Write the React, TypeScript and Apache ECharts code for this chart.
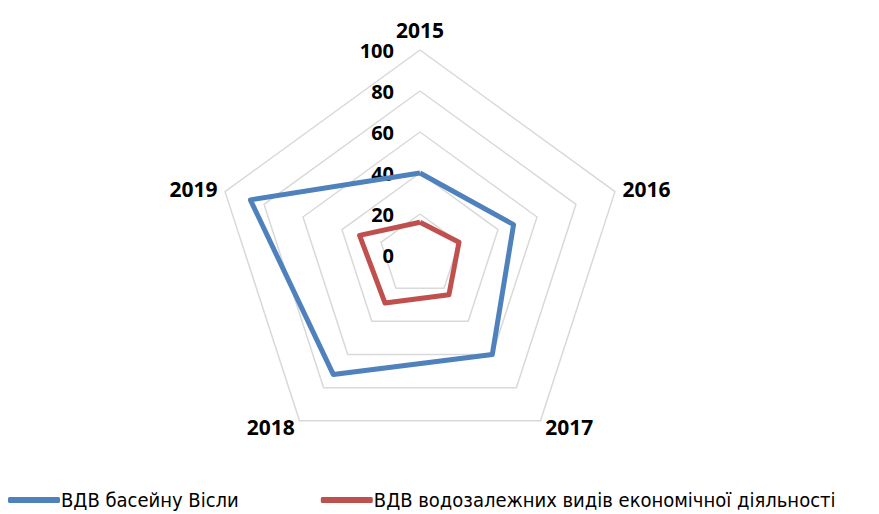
import React, { useEffect, useRef } from "react";
import * as echarts from "echarts";

const years = ["2015", "2016", "2017", "2018", "2019"];
const tickMax = 100;
const seriesNames = ["ВДВ басейну Вісли", "ВДВ водозалежних видів економічної діяльності"];
const vislaValues = [40, 48, 60, 72, 87];
const waterValues = [16, 20, 24, 29, 31];

// ECharts radar goes counter-clockwise; reorder so years run clockwise
const order = [0, 4, 3, 2, 1];
const orderedYears = order.map((i) => years[i]);
const orderedVisla = order.map((i) => vislaValues[i]);
const orderedWater = order.map((i) => waterValues[i]);

export default function App() {
  const ref = useRef<HTMLDivElement>(null);
  useEffect(() => {
    if (!ref.current) return;
    const chart = echarts.init(ref.current, null, { renderer: "svg" });
    chart.setOption({
      animation: false,
      backgroundColor: "#ffffff",
      legend: {
        left: 8,
        top: 488,
        itemWidth: 52,
        itemHeight: 6,
        itemGap: 82,
        padding: 0,
        icon: "roundRect",
        textStyle: {
          fontFamily: "'DejaVu Sans Condensed', 'Roboto Condensed', 'Liberation Sans Narrow', 'Roboto', sans-serif",
          fontSize: 20,
          lineHeight: 24,
          color: "#000",
          padding: [0, 0, 0, -4],
        },
        data: seriesNames,
      },
      radar: {
        center: [420, 255],
        radius: 205,
        startAngle: 90,
        shape: "polygon",
        splitNumber: 5,
        indicator: orderedYears.map((y, i) => ({
          name: y,
          min: 0,
          max: tickMax,
          ...(i === 0 ? {} : { axisLabel: { show: false } }),
        })),
        axisName: {
          color: "#000",
          fontWeight: "bold",
          fontSize: 21,
          fontFamily: "'Open Sans', sans-serif",
        },
        nameGap: 8,
        axisLine: { show: false },
        axisTick: { show: false },
        splitArea: { show: false },
        splitLine: { lineStyle: { color: "#d9d9d9", width: 1.5 } },
        axisLabel: {
          show: true,
          color: "#000",
          fontWeight: "bold",
          fontSize: 20,
          fontFamily: "'Open Sans', sans-serif",
          margin: 26,
        },
      },
      series: [
        {
          type: "radar",
          symbol: "none",
          data: [
            {
              name: seriesNames[0],
              value: orderedVisla,
              lineStyle: { color: "#4f81bd", width: 5, join: "round" },
              itemStyle: { color: "#4f81bd" },
            },
            {
              name: seriesNames[1],
              value: orderedWater,
              lineStyle: { color: "#c0504d", width: 5, join: "round" },
              itemStyle: { color: "#c0504d" },
            },
          ],
        },
      ],
    });
    return () => chart.dispose();
  }, []);
  return (
    <div
      ref={ref}
      style={{ position: "fixed", left: 0, top: 0, width: 879, height: 514 }}
    />
  );
}
